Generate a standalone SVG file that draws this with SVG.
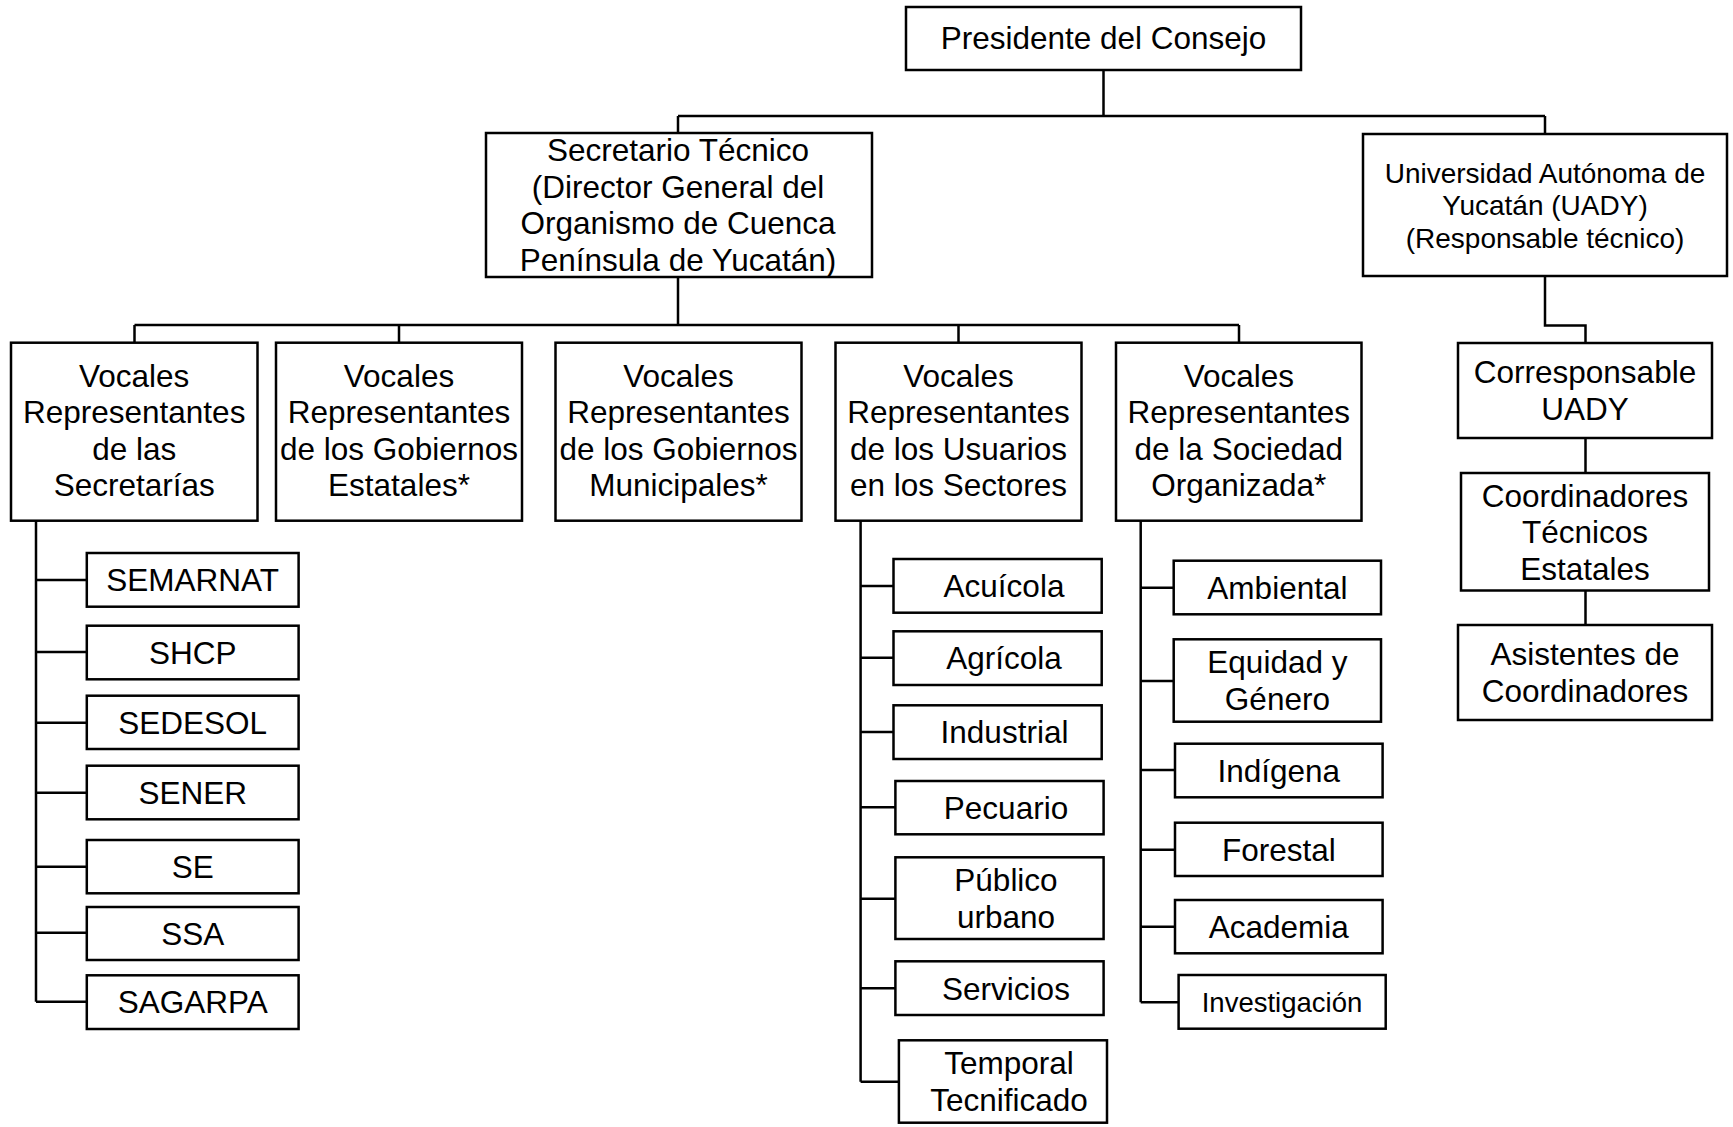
<svg xmlns="http://www.w3.org/2000/svg" width="1733" height="1127" viewBox="0 0 1733 1127">
<style>
rect{fill:#fff;stroke:#000;stroke-width:2.5}
text{font-family:"Liberation Sans",Arial,sans-serif;font-size:31.5px;fill:#000;text-anchor:middle}
.s{font-size:28px}
.i{font-size:27.5px}
#connectors path{fill:none;stroke:#000;stroke-width:2.5}
</style>
<rect x="0" y="0" width="1733" height="1127" style="fill:#fff;stroke:none"/>
<g id="connectors">
<path d="M1103.5,70V116M678,116H1545M678,116V133M1545,116V134"/>
<path d="M678,277V325M134.5,325H1239M134.5,325V342.7M399,325V342.7M958.5,325V342.7M1239,325V342.7"/>
<path d="M1545,276V325.5H1585.5V343M1585.5,438V473M1585.5,590.5V625"/>
<path d="M36,520.7V1001.7M36,580H86.8M36,652H86.8M36,722.7H86.8M36,792.7H86.8M36,866.7H86.8M36,932.7H86.8M36,1001.7H86.8"/>
<path d="M860.6,520.7V1081.7M860.6,586H893.5M860.6,657.7H893.5M860.6,732H893.5M860.6,807.3H895.4M860.6,898.7H895.4M860.6,988.3H895.4M860.6,1081.7H898.9"/>
<path d="M1140.7,520.7V1002.3M1140.7,587.7H1173.7M1140.7,681H1173.7M1140.7,770H1175M1140.7,849.7H1175M1140.7,926.7H1175M1140.7,1002.3H1178.6"/>
</g>
<g id="presidente"><rect x="906" y="7" width="395" height="63"/><text x="1103.5" y="49">Presidente del Consejo</text></g>
<g id="secretario"><rect x="486" y="133" width="386" height="144"/>
<text x="678" y="161">Secretario Técnico</text><text x="678" y="197.5">(Director General del</text><text x="678" y="234">Organismo de Cuenca</text><text x="678" y="270.5">Península de Yucatán)</text></g>
<g id="uady"><rect x="1363" y="134" width="364" height="142"/>
<text class="s" x="1545" y="182.5">Universidad Autónoma de</text><text class="s" x="1545" y="215">Yucatán (UADY)</text><text class="s" x="1545" y="247.5">(Responsable técnico)</text></g>
<g id="vocales-secretarias"><rect x="11" y="342.7" width="246.5" height="178"/>
<text x="134.2" y="386.5">Vocales</text><text x="134.2" y="423">Representantes</text><text x="134.2" y="459.5">de las</text><text x="134.2" y="496">Secretarías</text></g>
<g id="vocales-estatales"><rect x="276" y="342.7" width="246" height="178"/>
<text x="399" y="386.5">Vocales</text><text x="399" y="423">Representantes</text><text x="399" y="459.5">de los Gobiernos</text><text x="399" y="496">Estatales*</text></g>
<g id="vocales-municipales"><rect x="555.5" y="342.7" width="246" height="178"/>
<text x="678.5" y="386.5">Vocales</text><text x="678.5" y="423">Representantes</text><text x="678.5" y="459.5">de los Gobiernos</text><text x="678.5" y="496">Municipales*</text></g>
<g id="vocales-usuarios"><rect x="835.5" y="342.7" width="246" height="178"/>
<text x="958.5" y="386.5">Vocales</text><text x="958.5" y="423">Representantes</text><text x="958.5" y="459.5">de los Usuarios</text><text x="958.5" y="496">en los Sectores</text></g>
<g id="vocales-sociedad"><rect x="1116" y="342.7" width="245.5" height="178"/>
<text x="1238.8" y="386.5">Vocales</text><text x="1238.8" y="423">Representantes</text><text x="1238.8" y="459.5">de la Sociedad</text><text x="1238.8" y="496">Organizada*</text></g>
<g id="semarnat"><rect x="86.8" y="553" width="211.8" height="53.7"/><text x="192.7" y="591">SEMARNAT</text></g>
<g id="shcp"><rect x="86.8" y="625.7" width="211.8" height="53.6"/><text x="192.7" y="663.5">SHCP</text></g>
<g id="sedesol"><rect x="86.8" y="695.7" width="211.8" height="53.3"/><text x="192.7" y="733.5">SEDESOL</text></g>
<g id="sener"><rect x="86.8" y="765.7" width="211.8" height="53.6"/><text x="192.7" y="803.5">SENER</text></g>
<g id="se"><rect x="86.8" y="840" width="211.8" height="53.3"/><text x="192.7" y="877.7">SE</text></g>
<g id="ssa"><rect x="86.8" y="907" width="211.8" height="53"/><text x="192.7" y="944.5">SSA</text></g>
<g id="sagarpa"><rect x="86.8" y="975.3" width="211.8" height="53.7"/><text x="192.7" y="1013">SAGARPA</text></g>
<g id="acuicola"><rect x="893.5" y="559" width="208.2" height="53.7"/><text x="1004" y="597">Acuícola</text></g>
<g id="agricola"><rect x="893.5" y="631.3" width="208.2" height="53.7"/><text x="1004" y="669">Agrícola</text></g>
<g id="industrial"><rect x="893.5" y="705.3" width="208.2" height="53.7"/><text x="1004.5" y="743">Industrial</text></g>
<g id="pecuario"><rect x="895.4" y="781" width="208.2" height="53.3"/><text x="1006" y="818.5">Pecuario</text></g>
<g id="publico"><rect x="895.4" y="857.3" width="208.2" height="81.7"/><text x="1006" y="891">Público</text><text x="1006" y="927.5">urbano</text></g>
<g id="servicios"><rect x="895.4" y="961.3" width="208.2" height="53.7"/><text x="1006" y="999.5">Servicios</text></g>
<g id="temporal"><rect x="898.9" y="1040.3" width="208.1" height="82.4"/><text x="1009" y="1074.3">Temporal</text><text x="1009" y="1110.8">Tecnificado</text></g>
<g id="ambiental"><rect x="1173.7" y="560.7" width="207.3" height="53.6"/><text x="1277.4" y="598.5">Ambiental</text></g>
<g id="equidad"><rect x="1173.7" y="639.3" width="207.3" height="82.4"/><text x="1277.4" y="673.3">Equidad y</text><text x="1277.4" y="709.8">Género</text></g>
<g id="indigena"><rect x="1175" y="743.7" width="207.6" height="53.6"/><text x="1278.8" y="781.5">Indígena</text></g>
<g id="forestal"><rect x="1175" y="822.7" width="207.6" height="53.3"/><text x="1278.8" y="860.5">Forestal</text></g>
<g id="academia"><rect x="1175" y="900" width="207.6" height="53.3"/><text x="1278.8" y="937.5">Academia</text></g>
<g id="investigacion"><rect x="1178.6" y="975" width="207.1" height="53.7"/><text class="i" x="1282" y="1012">Investigación</text></g>
<g id="corresponsable"><rect x="1458" y="343" width="254" height="95"/><text x="1585" y="383.3">Corresponsable</text><text x="1585" y="419.8">UADY</text></g>
<g id="coordinadores"><rect x="1461" y="473" width="248" height="117.5"/><text x="1585" y="506.5">Coordinadores</text><text x="1585" y="543">Técnicos</text><text x="1585" y="579.5">Estatales</text></g>
<g id="asistentes"><rect x="1458" y="625" width="254" height="95"/><text x="1585" y="665.3">Asistentes de</text><text x="1585" y="701.8">Coordinadores</text></g>
</svg>
